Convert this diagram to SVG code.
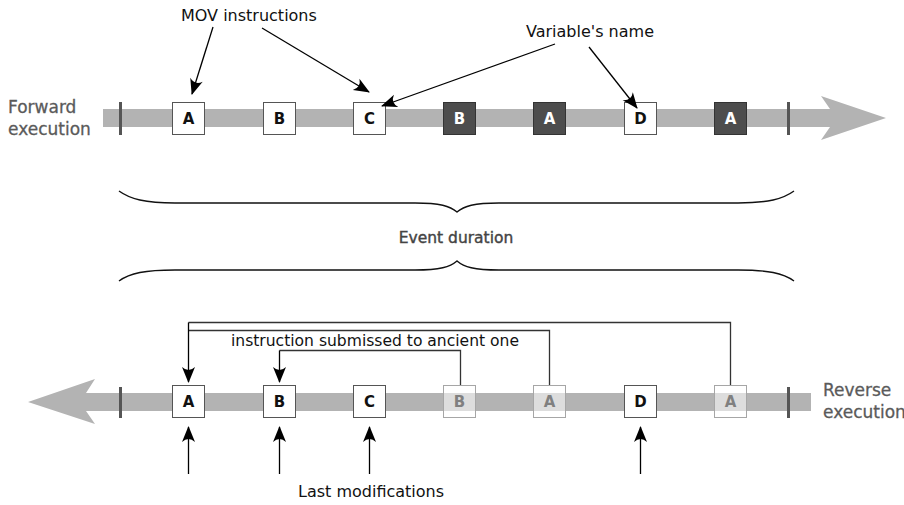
<svg xmlns="http://www.w3.org/2000/svg" width="904" height="505" viewBox="0 0 904 505">
  <defs>
    <style>
      .band { fill: #b3b3b3; }
      .tick { fill: #555555; }
      .box { fill: #ffffff; stroke: #555555; stroke-width: 1; }
      .box-dark { fill: #4d4d4d; stroke: #333333; stroke-width: 1; }
      .box-faded { fill: #ffffff; fill-opacity: 0.55; stroke: #a6a6a6; stroke-width: 1; }
      .lbl { font-family: "DejaVu Sans", "Liberation Sans", sans-serif; font-size: 15px; font-weight: bold; text-anchor: middle; }
      .lbl-dark { fill: #111111; }
      .lbl-light { fill: #ffffff; }
      .lbl-faded { fill: #808080; }
      .side { font-family: "DejaVu Sans", "Liberation Sans", sans-serif; font-size: 17px; fill: #5a5a5a; stroke: #5a5a5a; stroke-width: 0.3; }
      .note { font-family: "DejaVu Sans", "Liberation Sans", sans-serif; font-size: 16px; fill: #111111; }
      .title { font-family: "DejaVu Sans", "Liberation Sans", sans-serif; font-size: 15.5px; fill: #444444; stroke: #444444; stroke-width: 0.4; text-anchor: middle; }
      .arrow { fill: none; stroke: #000000; stroke-width: 1.3; marker-end: url(#head); }
      .link { fill: none; stroke: #333333; stroke-width: 1.3; }
      .brace { fill: none; stroke: #111111; stroke-width: 1.4; }
    </style>
    <marker id="head" markerUnits="userSpaceOnUse" markerWidth="18" markerHeight="16" viewBox="-16 -8 18 16" refX="0" refY="0" orient="auto">
      <path d="M1,0 L-15,-6.5 Q-9,0 -15,6.5 Z" fill="#000000"/>
    </marker>
  </defs>

  <!-- forward timeline -->
  <g id="forward-timeline">
    <rect class="band" x="103" y="109" width="730" height="18"/>
    <path class="band" d="M886,118 L821,96 L830,109 L830,127 L821,140 Z"/>
    <rect class="tick" x="119" y="102" width="3" height="33"/>
    <rect class="tick" x="787" y="102" width="3" height="33"/>
    <text class="side" x="8" y="113">Forward</text>
    <text class="side" x="8" y="135">execution</text>
  </g>

  <g id="f-A1"><rect class="box" x="172.5" y="102.5" width="32" height="32"/><text class="lbl lbl-dark" x="188.5" y="124">A</text></g>
  <g id="f-B1"><rect class="box" x="263.5" y="102.5" width="32" height="32"/><text class="lbl lbl-dark" x="279.5" y="124">B</text></g>
  <g id="f-C"><rect class="box" x="353.5" y="102.5" width="32" height="32"/><text class="lbl lbl-dark" x="369.5" y="124">C</text></g>
  <g id="f-B2"><rect class="box-dark" x="443.5" y="102.5" width="32" height="32"/><text class="lbl lbl-light" x="459.5" y="124">B</text></g>
  <g id="f-A2"><rect class="box-dark" x="533.5" y="102.5" width="32" height="32"/><text class="lbl lbl-light" x="549.5" y="124">A</text></g>
  <g id="f-D"><rect class="box" x="624.5" y="102.5" width="32" height="32"/><text class="lbl lbl-dark" x="640.5" y="124">D</text></g>
  <g id="f-A3"><rect class="box-dark" x="714.5" y="102.5" width="32" height="32"/><text class="lbl lbl-light" x="730.5" y="124">A</text></g>

  <g id="callouts">
    <text class="note" x="181" y="21">MOV instructions</text>
    <text class="note" x="526" y="37">Variable's name</text>
  </g>

  <!-- event duration braces -->
  <g id="duration">
    <path class="brace" d="M119,191 C130,199 145,203 175,203 L415,203 C440,203 450,206 457,212 C464,206 474,203 499,203 L738,203 C768,203 783,199 794,191"/>
    <text class="title" x="456" y="243">Event duration</text>
    <path class="brace" d="M119,281 C130,273 145,270 175,270 L415,270 C440,270 450,267 457,261 C464,267 474,270 499,270 L738,270 C768,270 783,273 794,281"/>
  </g>

  <!-- reverse timeline -->
  <g id="reverse-timeline">
    <rect class="band" x="84" y="393" width="727" height="18"/>
    <path class="band" d="M28,402 L95,379 L86,393 L86,411 L95,424 Z"/>
    <rect class="tick" x="119" y="387" width="3" height="31"/>
    <rect class="tick" x="787" y="387" width="3" height="31"/>
    <text class="side" x="823" y="396">Reverse</text>
    <text class="side" x="823" y="418">execution</text>
  </g>

  <g id="r-A1"><rect class="box" x="172.5" y="385.5" width="32" height="32"/><text class="lbl lbl-dark" x="188.5" y="407">A</text></g>
  <g id="r-B1"><rect class="box" x="263.5" y="385.5" width="32" height="32"/><text class="lbl lbl-dark" x="279.5" y="407">B</text></g>
  <g id="r-C"><rect class="box" x="353.5" y="385.5" width="32" height="32"/><text class="lbl lbl-dark" x="369.5" y="407">C</text></g>
  <g id="r-B2"><rect class="box-faded" x="443.5" y="385.5" width="32" height="32"/><text class="lbl lbl-faded" x="459.5" y="407">B</text></g>
  <g id="r-A2"><rect class="box-faded" x="533.5" y="385.5" width="32" height="32"/><text class="lbl lbl-faded" x="549.5" y="407">A</text></g>
  <g id="r-D"><rect class="box" x="624.5" y="385.5" width="32" height="32"/><text class="lbl lbl-dark" x="640.5" y="407">D</text></g>
  <g id="r-A3"><rect class="box-faded" x="714.5" y="385.5" width="32" height="32"/><text class="lbl lbl-faded" x="730.5" y="407">A</text></g>

  <g id="reverse-notes">
    <text class="note" x="231" y="346" textLength="288" lengthAdjust="spacingAndGlyphs">instruction submissed to ancient one</text>
    <text class="note" x="298" y="497">Last modifications</text>
  </g>

  <!-- connectors -->
  <g id="connectors">
    <line class="arrow" x1="213" y1="27" x2="192" y2="94"/>
    <line class="arrow" x1="262" y1="28" x2="369" y2="92"/>
    <line class="arrow" x1="555" y1="44" x2="382" y2="106"/>
    <line class="arrow" x1="589" y1="47" x2="637" y2="108"/>

    <path class="link" d="M730.5,385 V322.5 H188.5"/>
    <path class="link" d="M549.5,385 V330.5 H188.5"/>
    <path class="arrow" d="M188.5,322.5 V382"/>
    <path class="link" d="M460.5,385 V350.5 H279.5"/>
    <path class="arrow" d="M279.5,350.5 V382"/>

    <line class="arrow" x1="188.5" y1="474" x2="188.5" y2="427"/>
    <line class="arrow" x1="279.5" y1="474" x2="279.5" y2="427"/>
    <line class="arrow" x1="369.5" y1="474" x2="369.5" y2="427"/>
    <line class="arrow" x1="640.5" y1="474" x2="640.5" y2="427"/>
  </g>
</svg>
